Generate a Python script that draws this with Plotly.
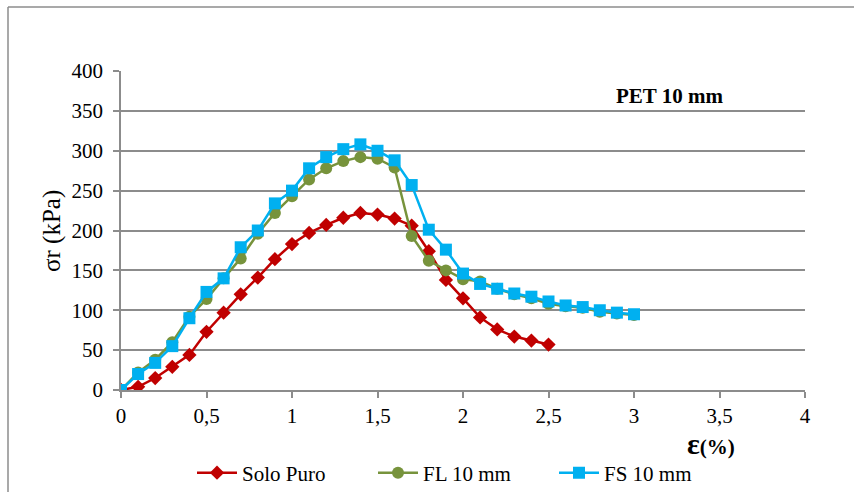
import plotly.graph_objects as go

x_solo = [0, 0.1, 0.2, 0.3, 0.4, 0.5, 0.6, 0.7, 0.8, 0.9, 1.0, 1.1, 1.2, 1.3, 1.4, 1.5, 1.6, 1.7, 1.8, 1.9, 2.0, 2.1, 2.2, 2.3, 2.4, 2.5]
y_solo = [0, 4, 15, 29, 44, 73, 97, 120, 141, 164, 183, 197, 207, 216, 222, 220, 215, 206, 174, 138, 115, 91, 76, 67, 62, 57]

x_fib = [0, 0.1, 0.2, 0.3, 0.4, 0.5, 0.6, 0.7, 0.8, 0.9, 1.0, 1.1, 1.2, 1.3, 1.4, 1.5, 1.6, 1.7, 1.8, 1.9, 2.0, 2.1, 2.2, 2.3, 2.4, 2.5, 2.6, 2.7, 2.8, 2.9, 3.0]
y_fl = [0, 22, 38, 60, 92, 114, 140, 165, 196, 222, 243, 264, 278, 287, 292, 290, 279, 193, 162, 150, 139, 136, 127, 120, 115, 108, 105, 103, 98, 96, 94]
y_fs = [0, 20, 34, 55, 90, 123, 140, 179, 200, 234, 250, 278, 292, 302, 308, 300, 288, 257, 201, 176, 146, 133, 127, 121, 117, 111, 106, 104, 100, 97, 95]

x_ticks = [0, 0.5, 1, 1.5, 2, 2.5, 3, 3.5, 4]
x_tick_labels = ["0", "0,5", "1", "1,5", "2", "2,5", "3", "3,5", "4"]
y_ticks = [0, 50, 100, 150, 200, 250, 300, 350, 400]

FONT = "Times New Roman, Liberation Serif, DejaVu Serif, serif"
GRID = "#8c8c8c"

L, R, T, B = 121, 805, 71, 390
PW, PH = R - L, B - T

def px(xp):
    return (xp - L) / PW

def py(yp):
    return (B - yp) / PH

fig = go.Figure()
fig.add_trace(go.Scatter(x=x_solo, y=y_solo, name="Solo Puro", mode="lines+markers",
                         line=dict(color="#C00000", width=2.5),
                         marker=dict(symbol="diamond", size=11, color="#C00000")))
fig.add_trace(go.Scatter(x=x_fib, y=y_fl, name="FL 10 mm", mode="lines+markers",
                         line=dict(color="#77933C", width=2.5),
                         marker=dict(symbol="circle", size=12, color="#77933C")))
fig.add_trace(go.Scatter(x=x_fib, y=y_fs, name="FS 10 mm", mode="lines+markers",
                         line=dict(color="#00B0F0", width=2.5),
                         marker=dict(symbol="square", size=12, color="#00B0F0")))

fig.update_layout(
    width=854, height=492,
    margin=dict(l=L, r=854 - R, t=T, b=492 - B, autoexpand=False),
    paper_bgcolor="white", plot_bgcolor="white",
    font=dict(family=FONT, size=21, color="black"),
    showlegend=True,
    legend=dict(orientation="h", x=px(192), y=py(473), xanchor="left", yanchor="middle",
                font=dict(family=FONT, size=21), itemwidth=40, traceorder="normal",
                entrywidth=126, entrywidthmode="pixels"),
    xaxis=dict(range=[0, 4], tickvals=x_ticks, ticktext=x_tick_labels,
               showgrid=False, zeroline=False, showline=True, linecolor=GRID, linewidth=1.5,
               ticks="outside", ticklen=6, tickcolor=GRID, tickwidth=1.5,
               tickfont=dict(family=FONT, size=21)),
    yaxis=dict(range=[0, 400], tickvals=y_ticks,
               showgrid=True, gridcolor=GRID, gridwidth=1.5, zeroline=False,
               showline=True, linecolor=GRID, linewidth=1.5,
               ticks="outside", ticklen=6, tickcolor=GRID, tickwidth=1.5,
               ticklabelstandoff=6,
               tickfont=dict(family=FONT, size=21)),
    annotations=[
        dict(text="σr (kPa)", x=px(52), y=py(231), xref="paper", yref="paper",
             textangle=-90, xanchor="center", yanchor="middle",
             showarrow=False, font=dict(family=FONT, size=25)),
        dict(text="<b>PET 10 mm</b>", x=px(669), y=py(96), xref="paper", yref="paper",
             xanchor="center", yanchor="middle",
             showarrow=False, font=dict(family=FONT, size=21)),
        dict(text="<b><span style='font-size:30px'>ε</span>(%)</b>", xref="paper", yref="paper",
             x=px(711), y=py(443), xanchor="center", yanchor="middle",
             showarrow=False, font=dict(family=FONT, size=21)),
    ],
    shapes=[
        dict(type="line", xref="paper", yref="paper", x0=px(8), x1=px(870),
             y0=py(7), y1=py(7), line=dict(color=GRID, width=1.5)),
        dict(type="line", xref="paper", yref="paper", x0=px(8), x1=px(8),
             y0=py(7), y1=py(510), line=dict(color=GRID, width=1.5)),
    ],
)

fig.write_html("out.html", config={"displayModeBar": False},
               post_script="document.body.style.margin='0';document.body.style.overflow='hidden';")
